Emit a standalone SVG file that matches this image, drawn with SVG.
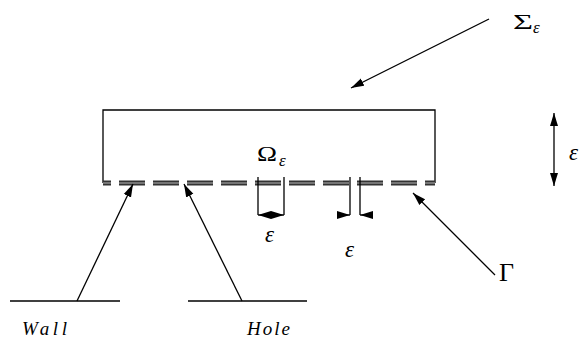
<svg xmlns="http://www.w3.org/2000/svg" width="583" height="343" viewBox="0 0 583 343">
<style>
.ln{stroke:#000;stroke-width:1.3;fill:none}
.t{font-family:"Liberation Serif","DejaVu Serif",serif;fill:#000}
.it{font-style:italic}
.gd{stroke:#333;stroke-width:5;stroke-dasharray:26 8;stroke-dashoffset:18;fill:none}
.gl{stroke:#8c8c8c;stroke-width:1.3;stroke-dasharray:26 8;stroke-dashoffset:18;fill:none}
</style>
<defs>
<marker id="ah" markerUnits="userSpaceOnUse" markerWidth="13" markerHeight="9" refX="13" refY="4" orient="auto-start-reverse" viewBox="0 0 13 8">
<path d="M0,0 L13,4 L0,8 z" fill="#000"/>
</marker>
</defs>
<rect width="583" height="343" fill="#fff"/>
<g id="domain">
<path class="ln" d="M103,183 V110 H435 V183"/>
<text class="t" x="257" y="160.5" font-size="22" textLength="20" lengthAdjust="spacingAndGlyphs">Ω</text>
<text class="t it" x="279" y="165.5" font-size="17">ε</text>
</g>
<g id="gamma-boundary">
<line class="gd" x1="103" y1="183" x2="435" y2="183"/>
<line class="gl" x1="103" y1="183" x2="435" y2="183"/>
</g>
<g id="sigma-label">
<text class="t" x="513" y="28.5" font-size="20" textLength="20" lengthAdjust="spacingAndGlyphs">Σ</text>
<text class="t it" x="533" y="33" font-size="17">ε</text>
</g>
<g id="gamma-label"><text class="t" x="499" y="281" font-size="26">Γ</text></g>
<g id="wall">
<line class="ln" x1="10" y1="301" x2="120" y2="301"/>
<text class="t it" x="22" y="335" font-size="19" textLength="45" lengthAdjust="spacing">Wall</text>
</g>
<g id="hole">
<line class="ln" x1="188" y1="301" x2="307" y2="301"/>
<text class="t it" x="247" y="335" font-size="19" textLength="43" lengthAdjust="spacing">Hole</text>
</g>
<g id="eps-hole">
<line class="ln" x1="258" y1="177" x2="258" y2="215"/>
<line class="ln" x1="284" y1="177" x2="284" y2="215"/>
<text class="t it" x="265" y="242" font-size="23">ε</text>
</g>
<g id="eps-wall">
<line class="ln" x1="350" y1="177" x2="350" y2="215"/>
<line class="ln" x1="360" y1="177" x2="360" y2="215"/>
<text class="t it" x="345" y="257" font-size="23">ε</text>
</g>
<g id="eps-thickness"><text class="t it" x="569" y="160" font-size="23">ε</text></g>
<g id="connectors">
<line class="ln" x1="489" y1="19" x2="351" y2="88" marker-end="url(#ah)"/>
<line class="ln" x1="495" y1="275" x2="413" y2="193" marker-end="url(#ah)"/>
<line class="ln" x1="77" y1="301" x2="133" y2="184" marker-end="url(#ah)"/>
<line class="ln" x1="242" y1="301" x2="184" y2="184" marker-end="url(#ah)"/>
<line class="ln" x1="258" y1="215" x2="284" y2="215" marker-start="url(#ah)" marker-end="url(#ah)"/>
<line class="ln" x1="337" y1="215" x2="350" y2="215" marker-end="url(#ah)"/>
<line class="ln" x1="373" y1="215" x2="360" y2="215" marker-end="url(#ah)"/>
<line class="ln" x1="554" y1="113" x2="554" y2="186" marker-start="url(#ah)" marker-end="url(#ah)"/>
</g>
</svg>
